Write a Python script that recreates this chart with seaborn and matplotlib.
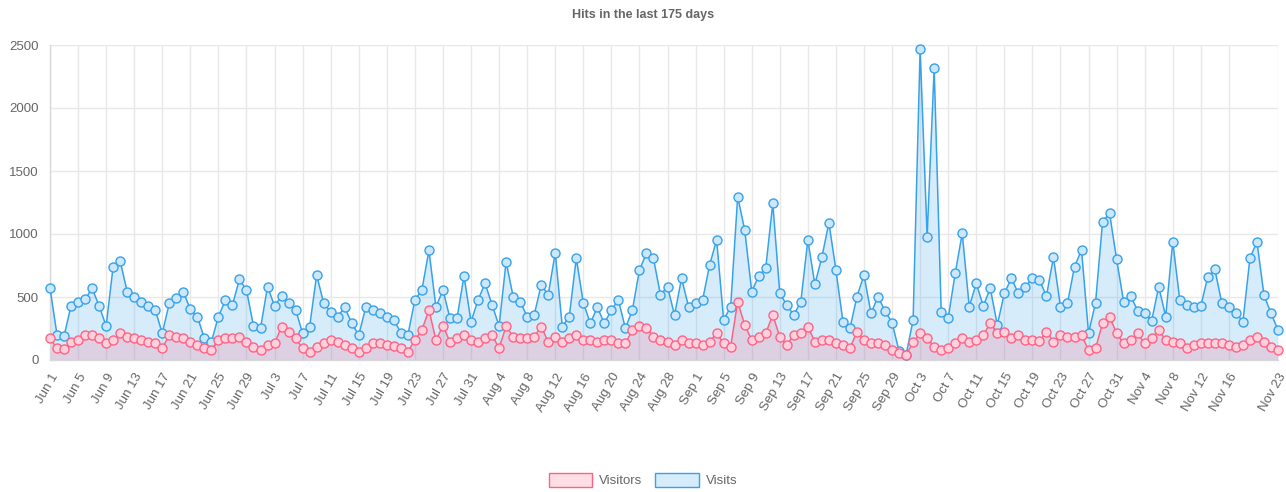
import matplotlib
matplotlib.use("Agg")
import matplotlib.pyplot as plt
from matplotlib.patches import Patch
import seaborn as sns
import pandas as pd
import numpy as np

title = "Hits in the last 175 days"
start_date = "2023-06-01"
n_days = 176

visits = [569, 200, 190, 430, 463, 481, 569, 429, 270, 741, 785, 542, 503, 463, 429, 397,
          212, 450, 489, 542, 402, 344, 172, 145, 344, 476, 437, 640, 556, 270, 251, 582,
          429, 508, 450, 400, 212, 265, 675, 450, 384, 344, 418, 291, 198, 418, 397, 370,
          344, 317, 217, 198, 476, 556, 870, 420, 556, 331, 331, 667, 304, 476, 608, 437,
          270, 780, 503, 463, 344, 357, 595, 516, 852, 265, 344, 807, 455, 291, 418, 291,
          397, 476, 251, 397, 714, 847, 807, 516, 582, 357, 648, 423, 450, 475, 754, 952,
          317, 423, 1296, 1032, 543, 667, 730, 1243, 529, 437, 357, 463, 952, 600, 816, 1090,
          714, 304, 251, 503, 675, 370, 503, 389, 296, 70, 40, 317, 2466, 979, 2315, 384,
          331, 688, 1005, 423, 608, 429, 569, 278, 529, 648, 529, 582, 648, 635, 508, 815,
          423, 450, 741, 873, 212, 455, 1098, 1164, 799, 463, 508, 392, 376, 312, 582, 344,
          939, 476, 437, 423, 429, 661, 720, 450, 423, 376, 304, 807, 939, 516, 370, 238]

visitors = [172, 93, 90, 145, 159, 198, 198, 172, 138, 159, 212, 185, 172, 159, 145, 132,
            93, 198, 185, 172, 145, 119, 93, 79, 159, 172, 172, 185, 145, 106, 79, 119,
            132, 265, 225, 172, 93, 66, 106, 132, 159, 145, 119, 93, 66, 93, 132, 132,
            119, 111, 93, 66, 159, 238, 397, 159, 270, 145, 172, 198, 159, 145, 172, 198,
            93, 270, 185, 172, 172, 185, 265, 145, 185, 145, 172, 198, 159, 159, 145, 159,
            159, 132, 132, 238, 270, 251, 185, 159, 146, 119, 159, 132, 132, 119, 146, 212,
            132, 106, 463, 278, 159, 185, 212, 357, 185, 119, 200, 212, 265, 146, 159, 159,
            132, 119, 93, 225, 159, 132, 132, 119, 79, 53, 40, 140, 212, 172, 106, 79,
            93, 132, 172, 146, 159, 198, 291, 212, 225, 172, 198, 159, 160, 150, 225, 146,
            198, 185, 185, 198, 79, 93, 291, 344, 212, 132, 159, 212, 132, 172, 238, 159,
            146, 132, 93, 119, 132, 132, 132, 132, 119, 106, 119, 159, 185, 146, 106, 79]

tick_labels = ["Jun 1", "Jun 5", "Jun 9", "Jun 13", "Jun 17", "Jun 21", "Jun 25", "Jun 29",
               "Jul 3", "Jul 7", "Jul 11", "Jul 15", "Jul 19", "Jul 23", "Jul 27", "Jul 31",
               "Aug 4", "Aug 8", "Aug 12", "Aug 16", "Aug 20", "Aug 24", "Aug 28",
               "Sep 1", "Sep 5", "Sep 9", "Sep 13", "Sep 17", "Sep 21", "Sep 25", "Sep 29",
               "Oct 3", "Oct 7", "Oct 11", "Oct 15", "Oct 19", "Oct 23", "Oct 27", "Oct 31",
               "Nov 4", "Nov 8", "Nov 12", "Nov 16", "Nov 23"]
y_ticks = [0, 500, 1000, 1500, 2000, 2500]

dates = pd.date_range(start_date, periods=n_days)
df = pd.DataFrame({"day": np.arange(n_days), "date": dates,
                   "Visits": visits, "Visitors": visitors})
labels_all = [f"{d.strftime('%b')} {d.day}" for d in dates]
tick_pos = [labels_all.index(t) for t in tick_labels]

sns.set_theme(style="white")
plt.rcParams['font.family'] = ['Liberation Sans', 'DejaVu Sans']

blue = (54/255, 162/255, 235/255)
red = (255/255, 99/255, 132/255)
blue_fill = (54/255, 162/255, 235/255, 0.2)
red_fill = (255/255, 99/255, 132/255, 0.2)
blue_pt = (0.80, 0.90, 0.98)
red_pt = (1.0, 0.82, 0.87)
grid_c = "#e8e8e8"

fig = plt.figure(figsize=(12.86, 4.92), dpi=100)
ax = fig.add_axes([50/1286, 1 - 360/492, 1228/1286, 315/492])

for col, c, fill, pt in [("Visits", blue, blue_fill, blue_pt),
                         ("Visitors", red, red_fill, red_pt)]:
    ax.fill_between(df["day"], df[col], 0, color=fill, linewidth=0, zorder=2)
    sns.lineplot(data=df, x="day", y=col, ax=ax, color=c, linewidth=1.1,
                 marker="o", markersize=6.5, markerfacecolor=pt, markeredgecolor=c,
                 markeredgewidth=1.0, zorder=3, clip_on=False)

ax.set_xlim(0, n_days - 1)
ax.set_ylim(0, 2500)
ax.set_yticks(y_ticks)
ax.set_yticklabels([str(v) for v in y_ticks], fontsize=9.5, color="#666666")
ax.set_xticks(tick_pos)
ax.set_xticklabels(tick_labels, rotation=60, ha="right", rotation_mode="anchor",
                   fontsize=9.5, color="#666666")
ax.set_xlabel("")
ax.set_ylabel("")
ax.grid(True, color=grid_c, linewidth=1, alpha=1)
ax.set_axisbelow(True)
for s in ["top", "right"]:
    ax.spines[s].set_visible(False)
for s in ["left", "bottom"]:
    ax.spines[s].set_color("#d9d9d9")
    ax.spines[s].set_linewidth(1)
ax.tick_params(axis="both", length=6, color=grid_c, pad=2)

fig.text(0.5, 1 - 15/492, title, ha="center", va="center", fontsize=9,
         fontweight="bold", color="#666666")

handles = [Patch(facecolor=red_fill, edgecolor=red, linewidth=1, label="Visitors"),
           Patch(facecolor=blue_fill, edgecolor=blue, linewidth=1, label="Visits")]
leg = fig.legend(handles=handles, loc="center", bbox_to_anchor=(0.5, 1 - 480/492),
                 ncol=2, frameon=False, fontsize=9.5, handlelength=3.3, handleheight=1.3,
                 columnspacing=1.0, handletextpad=0.5)
for t in leg.get_texts():
    t.set_color("#666666")

fig.savefig("out.png", dpi=100)
